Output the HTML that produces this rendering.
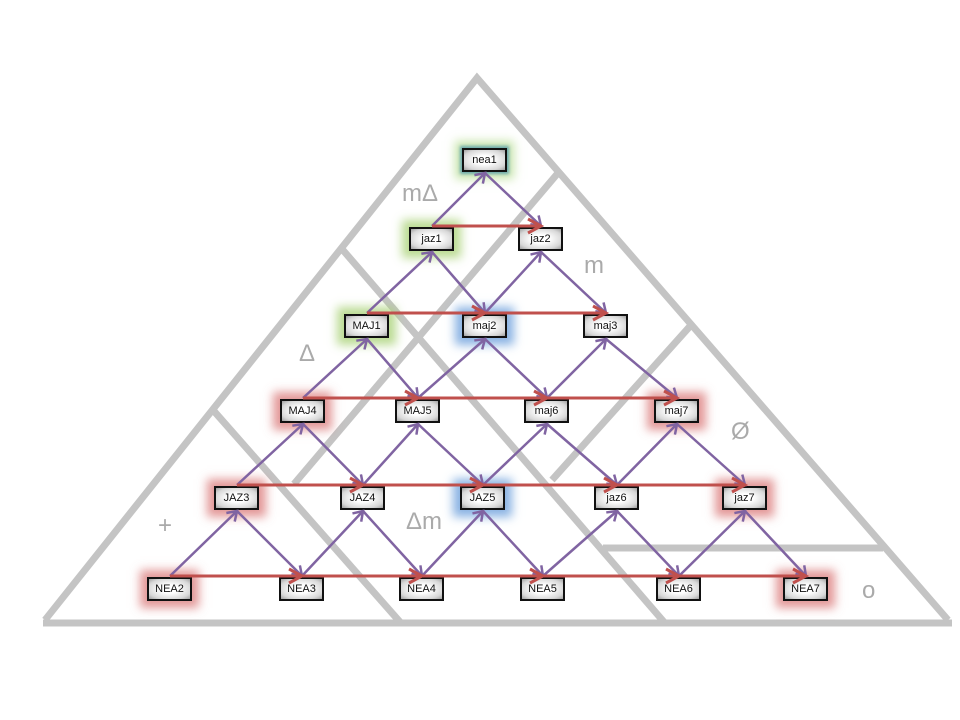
<!DOCTYPE html>
<html><head><meta charset="utf-8"><style>
html,body{margin:0;padding:0;background:#fff;}
#c{position:relative;width:960px;height:720px;overflow:hidden;font-family:"Liberation Sans",sans-serif;}
svg{position:absolute;left:0;top:0;}
#top{z-index:5;}
.n{position:absolute;width:41px;height:20px;border:2.5px solid #111;background:radial-gradient(ellipse at center,#fff 30%,#d8d8d8 75%,#a0a0a0 100%);font-size:11px;line-height:20px;text-align:center;color:#111;box-sizing:content-box;}
.r{box-shadow:0 0 9px 7px rgba(215,110,110,0.7);}
.g{box-shadow:0 0 9px 7px rgba(170,210,120,0.8);}
.b{box-shadow:0 0 9px 7px rgba(110,160,220,0.8);}
.t{box-shadow:0 0 3px 2px rgba(80,150,170,0.8),0 0 9px 7px rgba(180,220,140,0.7);}
.l{position:absolute;color:#aaa;font-size:24px;}
</style></head><body><div id="c">
<svg width="960" height="720">
<g stroke="#c4c4c4" stroke-width="7" fill="none" stroke-linecap="butt">
<polyline points="45,620 477,78 948,620"/>
<line x1="43" y1="623" x2="952" y2="623"/>
<line x1="342" y1="249" x2="664" y2="622"/>
<line x1="558" y1="173" x2="294" y2="484"/>
<line x1="213" y1="410" x2="400" y2="622"/>
<line x1="692" y1="324" x2="552" y2="480"/>
<line x1="603" y1="548" x2="883" y2="548"/>
</g>
</svg>
<div class="n t" style="left:462px;top:148px">nea1</div>
<div class="n g" style="left:409px;top:227px">jaz1</div>
<div class="n" style="left:518px;top:227px">jaz2</div>
<div class="n g" style="left:344px;top:314px">MAJ1</div>
<div class="n b" style="left:462px;top:314px">maj2</div>
<div class="n" style="left:583px;top:314px">maj3</div>
<div class="n r" style="left:280px;top:399px">MAJ4</div>
<div class="n" style="left:395px;top:399px">MAJ5</div>
<div class="n" style="left:524px;top:399px">maj6</div>
<div class="n r" style="left:654px;top:399px">maj7</div>
<div class="n r" style="left:214px;top:486px">JAZ3</div>
<div class="n" style="left:340px;top:486px">JAZ4</div>
<div class="n b" style="left:460px;top:486px">JAZ5</div>
<div class="n" style="left:594px;top:486px">jaz6</div>
<div class="n r" style="left:722px;top:486px">jaz7</div>
<div class="n r" style="left:147px;top:577px">NEA2</div>
<div class="n" style="left:279px;top:577px">NEA3</div>
<div class="n" style="left:399px;top:577px">NEA4</div>
<div class="n" style="left:520px;top:577px">NEA5</div>
<div class="n" style="left:656px;top:577px">NEA6</div>
<div class="n r" style="left:783px;top:577px">NEA7</div>
<svg id="top" width="960" height="720">
<defs>
<marker id="ap" markerWidth="14" markerHeight="14" refX="10" refY="7" orient="auto" markerUnits="userSpaceOnUse"><path d="M1,1 L10,7 L1,13" fill="none" stroke="#8064a2" stroke-width="2.5"/></marker>
<marker id="ar" markerWidth="18" markerHeight="18" refX="14" refY="9" orient="auto" markerUnits="userSpaceOnUse"><path d="M1,2 L14,9 L1,16" fill="none" stroke="#c0504d" stroke-width="3"/></marker>
</defs>
<g id="edges"></g>
</svg>
<div class="l" style="left:402px;top:180px">mΔ</div>
<div class="l" style="left:584px;top:252px">m</div>
<div class="l" style="left:299px;top:340px">Δ</div>
<div class="l" style="left:731px;top:418px">Ø</div>
<div class="l" style="left:158px;top:512px">+</div>
<div class="l" style="left:406px;top:508px">Δm</div>
<div class="l" style="left:862px;top:577px">o</div>
<script>
var rows=[[[485,148]],[[432,227],[541,227]],[[367,314],[485,314],[606,314]],[[303,399],[418,399],[547,399],[677,399]],[[237,486],[363,486],[483,486],[617,486],[745,486]],[[170,577],[302,577],[422,577],[543,577],[679,577],[806,577]]];
var H=25,s='';
function L(x1,y1,x2,y2,m,c,w){s+='<line x1="'+x1+'" y1="'+y1+'" x2="'+x2+'" y2="'+y2+'" stroke="'+c+'" stroke-width="'+w+'" marker-end="url(#'+m+')"/>';}
for(var r=1;r<rows.length;r++){for(var i=0;i<rows[r-1].length;i++){var u=rows[r-1][i],a=rows[r][i],b=rows[r][i+1];
L(a[0],a[1]-1,u[0],u[1]+H,'ap','#8064a2',2.5);
L(u[0],u[1]+H,b[0],b[1]-1,'ap','#8064a2',2.5);}}
for(var r=1;r<rows.length;r++){for(var i=0;i<rows[r].length-1;i++){var a=rows[r][i],b=rows[r][i+1];L(a[0],a[1]-1,b[0],b[1]-1,'ar','#c0504d',3);}}
document.getElementById('edges').innerHTML=s;
</script>
</div></body></html>
